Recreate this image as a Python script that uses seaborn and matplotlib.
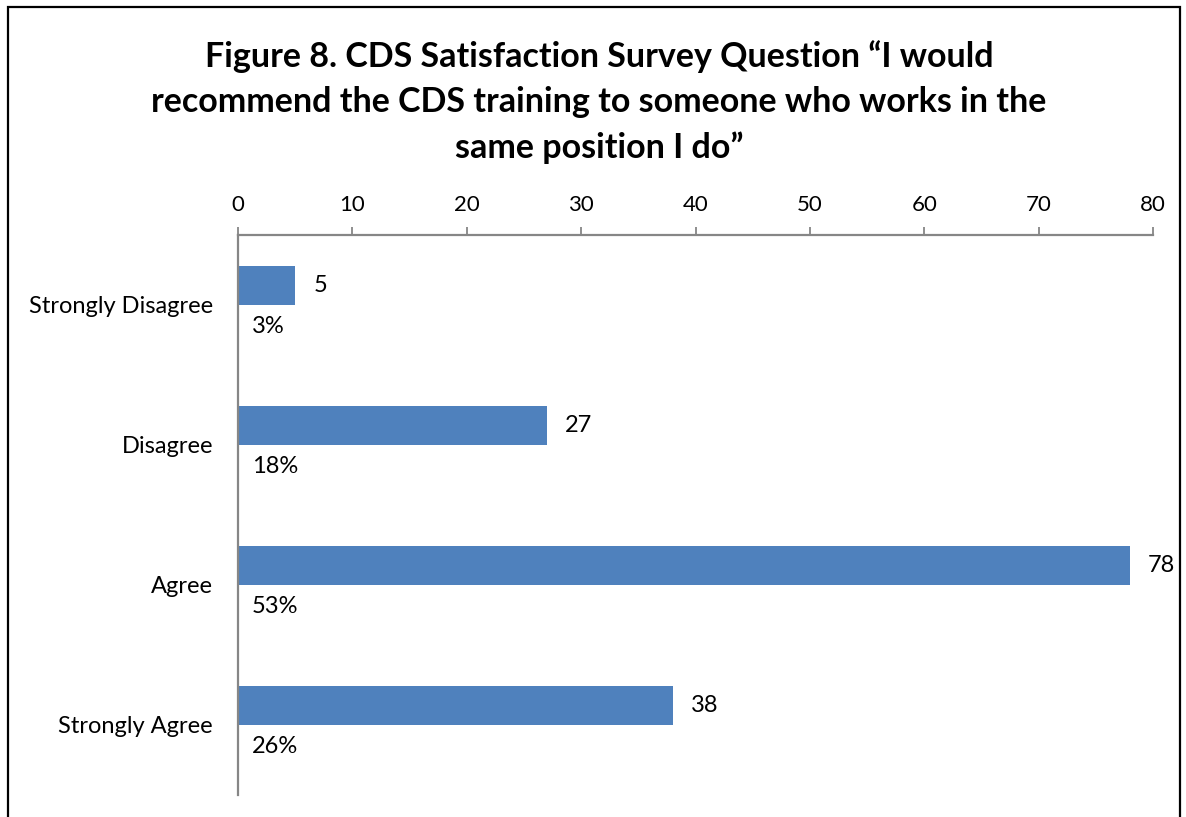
import matplotlib

matplotlib.use("Agg")
import matplotlib.pyplot as plt
import pandas as pd
import seaborn as sns

CATEGORIES = ["Strongly Disagree", "Disagree", "Agree", "Strongly Agree"]
COUNTS = [5, 27, 78, 38]
PERCENTS = [0.03, 0.18, 0.53, 0.26]
X_TICKS = [0, 10, 20, 30, 40, 50, 60, 70, 80]
TITLE = "Figure 8. CDS Satisfaction Survey Question \u201cI would\nrecommend the CDS training to someone who works in the\nsame position I do\u201d"

BAR_COLOR = "#4F81BD"
AXIS_COLOR = "#868686"


def main() -> None:
    sns.set_theme(style="white")
    plt.rcParams["font.family"] = ["Lato", "DejaVu Sans"]
    plt.rcParams.update({"text.color": "black", "xtick.labelcolor": "black", "ytick.labelcolor": "black"})

    df = pd.concat(
        [
            pd.DataFrame({"category": CATEGORIES, "series": "count", "value": COUNTS}),
            pd.DataFrame({"category": CATEGORIES, "series": "percent", "value": PERCENTS}),
        ],
        ignore_index=True,
    )

    fig = plt.figure(figsize=(11.86, 8.17), dpi=100)
    ax = fig.add_axes([0.2007, 0.027, 0.7715, 0.6857])
    sns.barplot(
        data=df,
        y="category",
        x="value",
        hue="series",
        order=CATEGORIES,
        hue_order=["count", "percent"],
        palette={"count": BAR_COLOR, "percent": BAR_COLOR},
        saturation=1,
        width=0.56,
        dodge=True,
        legend=False,
        ax=ax,
    )
    for patch in ax.patches:
        patch.set_edgecolor("none")
    # percent series only carries the labels, its bars are too small to show
    for patch in ax.containers[1]:
        patch.set_visible(False)

    # value and percentage labels
    for i, (count, pct) in enumerate(zip(COUNTS, PERCENTS)):
        ax.annotate(f"{count}", xy=(count, i - 0.14), xytext=(13, 0), textcoords="offset points",
                    va="center", ha="left", fontsize=17)
        ax.annotate(f"{round(pct * 100):.0f}%", xy=(0, i + 0.155), xytext=(10, 0),
                    textcoords="offset points", va="center", ha="left", fontsize=17)

    ax.set_xlim(0, 80)
    ax.set_ylim(3.5, -0.5)
    ax.set_xticks(X_TICKS)
    ax.xaxis.tick_top()
    ax.tick_params(axis="x", direction="out", length=6, width=1.3, color=AXIS_COLOR,
                   labelsize=16, pad=8)
    ax.tick_params(axis="y", length=0, labelsize=17, pad=18)
    ax.set_xlabel("")
    ax.set_ylabel("")
    for side in ["right", "bottom"]:
        ax.spines[side].set_visible(False)
    for side in ["top", "left"]:
        ax.spines[side].set_color(AXIS_COLOR)
        ax.spines[side].set_linewidth(1.6)

    fig.text(0.505, 0.951, TITLE, ha="center", va="top", fontsize=24.5, fontweight="bold",
             linespacing=1.5)

    frame = plt.Rectangle((0.007, -0.05), 0.988, 1.041, transform=fig.transFigure,
                          fill=False, edgecolor="black", linewidth=1.6)
    fig.patches.append(frame)

    fig.savefig("out.png", dpi=100)
    plt.close(fig)


if __name__ == "__main__":
    main()
